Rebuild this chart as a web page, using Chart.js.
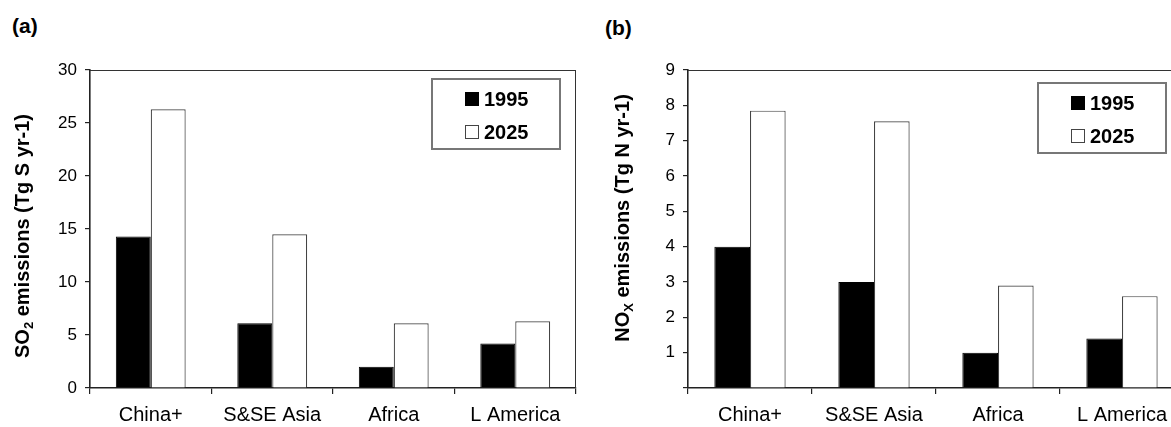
<!DOCTYPE html>
<html>
<head>
<title>SO2 and NOx emissions</title>
<script src="https://cdn.jsdelivr.net/npm/chart.js"></script>
<style>
    body {
        margin: 0;
        width: 1171px;
        height: 427px;
        overflow: hidden;
        background: #fff;
        position: relative;
        font-family: "Liberation Sans", Arial, sans-serif;
    }
    .panel-tag {
        position: absolute;
        font-weight: bold;
        font-size: 21px;
    }
    #wrapA { position: absolute; left: 0; top: 0; }
    #wrapB { position: absolute; left: 598px; top: 0; }
</style>
</head>
<body>
<div class="panel-tag" style="left: 12px; top: 14px;">(a)</div>
<div class="panel-tag" style="left: 605px; top: 16px;">(b)</div>
<div id="wrapA"><canvas id="chartA" width="600" height="427"></canvas></div>
<div id="wrapB"><canvas id="chartB" width="602" height="427"></canvas></div>

<script>
const regions = ['China+', 'S&SE Asia', 'Africa', 'L America'];
const years = ['1995', '2025'];
const so2_1995 = [14.3, 6.1, 2.0, 4.2];
const so2_2025 = [26.3, 14.5, 6.1, 6.3];
const nox_1995 = [4.0, 3.0, 1.0, 1.4];
const nox_2025 = [7.85, 7.55, 2.9, 2.6];

const FONT = '"Liberation Sans", Arial, sans-serif';

// draws the plot frame, the rotated axis title (with subscript) and the boxed legend
const extras = {
    id: 'extras',
    beforeDatasetsDraw(chart, args, opts) {
        const a = chart.chartArea;
        const ctx = chart.ctx;
        ctx.save();
        ctx.strokeStyle = '#333';
        ctx.lineWidth = 1;
        ctx.beginPath();
        ctx.moveTo(a.left, a.top + 0.5);
        ctx.lineTo(a.right, a.top + 0.5);
        ctx.moveTo(a.right - 0.5, a.top);
        ctx.lineTo(a.right - 0.5, a.bottom);
        ctx.stroke();
        ctx.restore();
    },
    afterDraw(chart, args, opts) {
        const a = chart.chartArea;
        const ctx = chart.ctx;

        // y axis title
        ctx.save();
        ctx.translate(opts.titleX, (a.top + a.bottom) / 2 + opts.titleShift);
        ctx.rotate(-Math.PI / 2);
        ctx.fillStyle = '#000';
        ctx.textBaseline = 'middle';
        const big = 'bold 20px ' + FONT;
        const small = 'bold 13px ' + FONT;
        const parts = opts.title;
        let total = 0;
        parts.forEach(p => {
            ctx.font = p.sub ? small : big;
            total += ctx.measureText(p.text).width;
        });
        let x = -total / 2;
        parts.forEach(p => {
            ctx.font = p.sub ? small : big;
            ctx.fillText(p.text, x, p.sub ? 6 : 0);
            x += ctx.measureText(p.text).width;
        });
        ctx.restore();

        // legend box
        const bw = 128, bh = 70;
        const bx = a.right - opts.legendRight - bw;
        const by = a.top + opts.legendTop;
        ctx.save();
        ctx.fillStyle = '#fff';
        ctx.fillRect(bx, by, bw, bh);
        ctx.strokeStyle = '#777';
        ctx.lineWidth = 2;
        ctx.strokeRect(bx, by, bw, bh);
        ctx.font = 'bold 20px ' + FONT;
        ctx.textBaseline = 'middle';
        chart.data.datasets.forEach((ds, i) => {
            const cy = by + 20 + i * 33;
            ctx.fillStyle = ds.backgroundColor;
            ctx.fillRect(bx + 33, cy - 7, 14, 14);
            ctx.strokeStyle = ds.borderColor;
            ctx.lineWidth = 1;
            ctx.strokeRect(bx + 33.5, cy - 6.5, 13, 13);
            ctx.fillStyle = '#000';
            ctx.fillText(ds.label, bx + 52, cy + 1);
        });
        ctx.restore();
    }
};

function makeChart(canvasId, d1995, d2025, yMax, yStep, hideZero, padRight, extraOpts) {
    const ctx = document.getElementById(canvasId).getContext('2d');
    return new Chart(ctx, {
        type: 'bar',
        data: {
            labels: regions,
            datasets: [
                {
                    label: years[0],
                    data: d1995,
                    backgroundColor: '#000',
                    borderColor: '#000',
                    borderWidth: 1
                },
                {
                    label: years[1],
                    data: d2025,
                    backgroundColor: '#fff',
                    borderColor: '#444',
                    borderWidth: 1.2
                }
            ]
        },
        options: {
            responsive: false,
            animation: false,
            devicePixelRatio: 1,
            categoryPercentage: 0.575,
            barPercentage: 1.0,
            layout: { padding: { top: 70, right: padRight, left: 0, bottom: 0 } },
            plugins: {
                legend: { display: false },
                title: { display: false },
                tooltip: { enabled: false },
                extras: extraOpts
            },
            scales: {
                x: {
                    afterFit(s) { s.height = 39; },
                    grid: { drawOnChartArea: false, drawTicks: true, tickLength: 6, color: '#222', lineWidth: 1.2, offset: true },
                    border: { display: true, color: '#222', width: 1.6 },
                    ticks: { color: '#000', padding: 9, font: { family: FONT, size: 20 } }
                },
                y: {
                    min: 0,
                    max: yMax,
                    afterFit(s) { s.width = 90; },
                    grid: { drawOnChartArea: false, drawTicks: true, tickLength: 5, color: '#222', lineWidth: 1.2 },
                    border: { display: true, color: '#222', width: 1.6 },
                    ticks: {
                        stepSize: yStep,
                        color: '#000',
                        padding: 8,
                        font: { family: FONT, size: 17 },
                        callback: (v) => (hideZero && v === 0) ? '' : v
                    }
                }
            }
        },
        plugins: [extras]
    });
}

makeChart('chartA', so2_1995, so2_2025, 30, 5, false, 24, {
    title: [{ text: 'SO' }, { text: '2', sub: true }, { text: ' emissions (Tg S yr-1)' }],
    titleX: 23, titleShift: 7, legendRight: 16, legendTop: 9
});
makeChart('chartB', nox_1995, nox_2025, 9, 1, true, 16, {
    title: [{ text: 'NO' }, { text: 'X', sub: true }, { text: ' emissions (Tg N yr-1)' }],
    titleX: 25, titleShift: -11, legendRight: 18, legendTop: 13
});
</script>
</body>
</html>
